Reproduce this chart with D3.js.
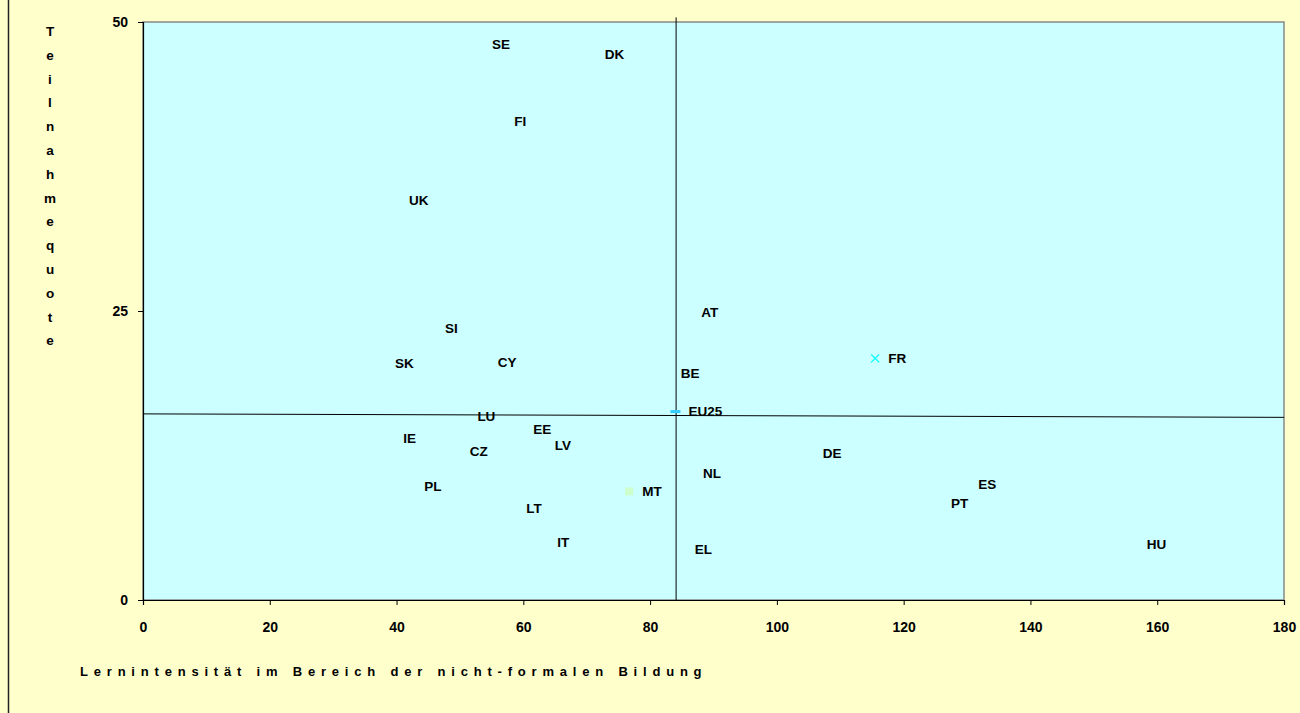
<!DOCTYPE html>
<html>
<head>
<meta charset="utf-8">
<script src="https://cdn.jsdelivr.net/npm/d3@7"></script>
<style>
  body { margin: 0; background: #FFFFCC; }
  svg { display: block; font-family: "Liberation Sans", Arial, sans-serif; font-weight: bold; }
</style>
</head>
<body>
<div id="chart"></div>
<script>
// country codes with their position (x = Lernintensität, y = Teilnahmequote)
const countries = ["SE", "DK", "FI", "UK", "SI", "SK", "CY", "LU", "EE", "IE", "CZ", "LV", "PL", "MT", "LT", "IT",
  "BE", "AT", "FR", "EU25", "DE", "NL", "EL", "ES", "PT", "HU"];
const intensity = [53.0, 70.8, 56.5, 39.9, 45.6, 37.7, 53.9, 50.7, 59.5, 39.0, 49.5, 62.9, 42.3, 76.7, 58.4, 63.3,
  82.8, 86.0, 115.5, 84.0, 105.2, 86.3, 85.0, 129.7, 125.4, 156.3];
const participation = [48.1, 47.2, 41.4, 34.6, 23.5, 20.5, 20.6, 15.9, 14.8, 14.0, 12.9, 13.4, 9.8, 9.4, 7.9, 5.0,
  19.6, 24.9, 20.9, 16.3, 12.7, 11.0, 4.4, 10.0, 8.4, 4.8];

// reference lines (EU25 average)
const vLine = [[84.1, 0], [84.1, 50.4]];
const hLine = [[0, 16.1], [180, 15.8]];

const xTicks = [0, 20, 40, 60, 80, 100, 120, 140, 160, 180];
const yTicks = [0, 25, 50];

const width = 1300, height = 713;
const margin = { left: 143, top: 22, right: 16, bottom: 113 };

const svg = d3.select("#chart").append("svg")
  .attr("width", width)
  .attr("height", height);

// outer chart frame line on the left
svg.append("line")
  .attr("x1", 8.5).attr("x2", 8.5)
  .attr("y1", 0).attr("y2", height)
  .attr("stroke", "#222").attr("stroke-width", 1.5);

const x = d3.scaleLinear().domain([0, 180]).range([margin.left, width - margin.right]);
const y = d3.scaleLinear().domain([0, 50]).range([height - margin.bottom, margin.top]);

// plot area
svg.append("rect")
  .attr("x", x(0)).attr("y", y(50))
  .attr("width", x(180) - x(0)).attr("height", y(0) - y(50))
  .attr("fill", "#CCFFFF")
  .attr("stroke", "#888").attr("stroke-width", 1.5);

// axes
const xAxis = svg.append("g")
  .attr("transform", `translate(0,${y(0)})`)
  .call(d3.axisBottom(x).tickValues(xTicks).tickSize(5).tickPadding(17).tickFormat(d3.format("d")));
const yAxis = svg.append("g")
  .attr("transform", `translate(${x(0)},0)`)
  .call(d3.axisLeft(y).tickValues(yTicks).tickSize(5).tickPadding(10).tickFormat(d3.format("d")));

[xAxis, yAxis].forEach(a => {
  a.select(".domain").attr("stroke", "#000").attr("stroke-width", 1.2);
  a.selectAll(".tick line").attr("stroke", "#000");
  a.selectAll("text")
    .attr("fill", "#000")
    .style("font-size", "14px")
    .style("font-weight", "bold")
    .style("font-family", "'Liberation Sans', Arial, sans-serif");
});

// reference lines
const line = d3.line().x(d => x(d[0])).y(d => y(d[1]));
svg.append("path").attr("d", line(vLine)).attr("stroke", "#000").attr("fill", "none");
svg.append("path").attr("d", line(hLine)).attr("stroke", "#000").attr("fill", "none");

// visible markers (only a few series have them)
const pts = countries.map((c, i) => ({ c, x: intensity[i], y: participation[i] }));
pts.forEach(p => {
  const px = x(p.x), py = y(p.y);
  if (p.c === "FR") {
    svg.append("path")
      .attr("d", `M${px - 4},${py - 4}L${px + 4},${py + 4}M${px - 4},${py + 4}L${px + 4},${py - 4}`)
      .attr("stroke", "#00FFFF").attr("stroke-width", 1.3);
  } else if (p.c === "EU25") {
    svg.append("rect")
      .attr("x", px - 5).attr("y", py - 1.5)
      .attr("width", 10).attr("height", 3)
      .attr("fill", "#33CCFF");
  } else if (p.c === "MT") {
    svg.append("rect")
      .attr("x", px - 4).attr("y", py - 4)
      .attr("width", 8).attr("height", 8)
      .attr("fill", "#CCFFCC");
  }
});

// data labels to the right of each point
svg.append("g").selectAll("text")
  .data(pts)
  .enter()
  .append("text")
  .attr("x", d => x(d.x) + 13)
  .attr("y", d => y(d.y))
  .attr("dy", "0.35em")
  .style("font-size", "13.5px")
  .attr("fill", "#000")
  .text(d => d.c);

// axis titles
svg.append("text")
  .attr("x", 80)
  .attr("y", 676)
  .style("font-size", "13px")
  .style("letter-spacing", "5.8px")
  .text("Lernintensität im Bereich der nicht-formalen Bildung");

const yTitle = "Teilnahmequote".split("");
svg.append("g").selectAll("text")
  .data(yTitle)
  .enter()
  .append("text")
  .attr("x", 50)
  .attr("y", (d, i) => 36 + i * 23.8)
  .attr("text-anchor", "middle")
  .style("font-size", "13.5px")
  .text(d => d);
</script>
</body>
</html>
